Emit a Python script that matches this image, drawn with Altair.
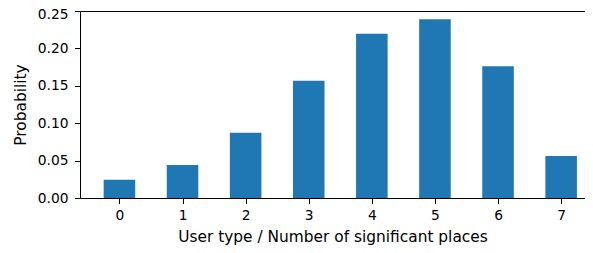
import altair as alt
import pandas as pd

user_type = [0, 1, 2, 3, 4, 5, 6, 7]
probability = [0.0245, 0.0441, 0.0873, 0.1568, 0.2197, 0.2390, 0.1760, 0.0561]
y_ticks = [0.0, 0.05, 0.10, 0.15, 0.20, 0.25]

df = pd.DataFrame({"x": user_type, "p": probability})

font = "DejaVu Sans"
label_fs = 13.8
title_fs = 15.4
W = 505
px_per_unit = 63.1
x_scale = alt.Scale(domain=[-0.625, -0.625 + W / px_per_unit], nice=False, zero=False)
y_scale = alt.Scale(domain=[0, 0.25], nice=False)

axis_style = dict(
    grid=False,
    domainColor="#000",
    domainWidth=1,
    tickColor="#000",
    tickWidth=1,
    tickSize=5.5,
    labelFont=font,
    labelFontSize=label_fs,
    labelColor="#000",
    titleFont=font,
    titleFontSize=title_fs,
    titleFontWeight="normal",
    titleColor="#000",
)

base = alt.Chart(df).transform_calculate(x0="datum.x - 0.25", x1="datum.x + 0.25")

y_axis = alt.Axis(
    values=y_ticks,
    format=".2f",
    title="Probability",
    labelPadding=6.5,
    titlePadding=8.5,
    labelOffset={"condition": {"test": "datum.value > 0.24", "value": 3}, "value": 0},
    **axis_style,
)

bars = base.mark_bar(color="#1f77b4").encode(
    x=alt.X(
        "x0:Q",
        scale=x_scale,
        axis=alt.Axis(
            values=user_type,
            format="d",
            title="User type / Number of significant places",
            labelPadding=5,
            titlePadding=7,
            **axis_style,
        ),
    ),
    x2="x1:Q",
    y=alt.Y("p:Q", scale=y_scale, axis=y_axis),
    y2=alt.datum(0),
)

top_spine = base.mark_bar(opacity=0).encode(
    x=alt.X(
        "x0:Q",
        scale=x_scale,
        axis=alt.Axis(
            orient="top", labels=False, ticks=False, title=None, grid=False,
            domainColor="#000", domainWidth=1,
        ),
    ),
    x2="x1:Q",
    y=alt.Y("p:Q", scale=y_scale, axis=y_axis),
    y2=alt.datum(0),
)

chart = (
    alt.layer(bars, top_spine)
    .resolve_axis(x="independent")
    .properties(
        width=W,
        height=187,
        autosize=alt.AutoSizeParams(type="none"),
        padding={"left": 72, "top": 3, "right": 0, "bottom": 47},
    )
    .configure_view(stroke=None)
)

chart.save("out.html", embed_options={"renderer": "svg", "actions": False})
